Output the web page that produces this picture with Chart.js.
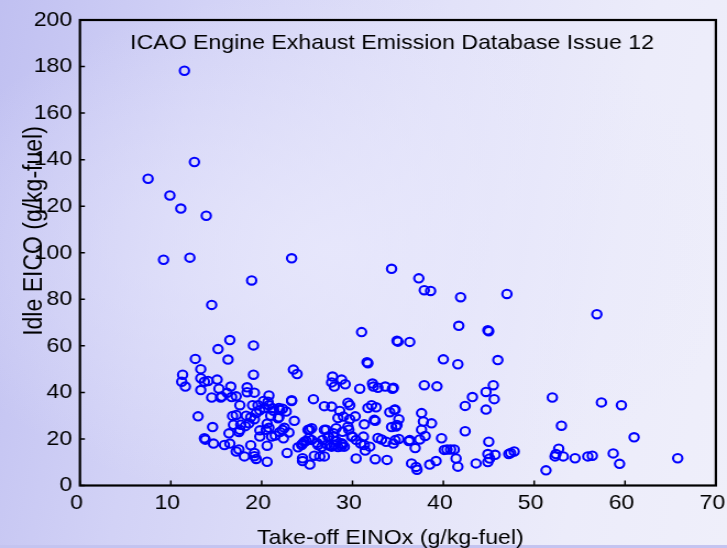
<!DOCTYPE html>
<html>
<head>
<meta charset="utf-8">
<title>ICAO Engine Exhaust Emission Database Issue 12</title>
<script src="https://cdn.jsdelivr.net/npm/chart.js@4.4.1/dist/chart.umd.min.js"></script>
<style>
  html, body { margin: 0; padding: 0; }
  body {
    width: 727px; height: 548px; overflow: hidden; position: relative;
    background:
      radial-gradient(ellipse 420px 260px at 330px 250px, rgba(232,232,252,0.85), rgba(232,232,252,0) 100%),
      linear-gradient(100deg, #c0c0f1 0%, #d2d2f6 25%, #e2e2f9 55%, #ececfa 80%, #efeffa 100%);
  }
  #strip { position: absolute; left: 0; top: 545px; width: 727px; height: 3px; background: #c4c4f0; }
  #wrap { position: absolute; left: 0; top: 0; transform: scaleX(1.0998); transform-origin: 0 0; }
</style>
</head>
<body>
<div id="strip"></div>
<div id="wrap"><canvas id="emissionChart" width="661" height="548"></canvas></div>
<script>
// titles
const chartTitle = 'ICAO Engine Exhaust Emission Database Issue 12';
const xTitle = 'Take-off EINOx (g/kg-fuel)';
const yTitle = 'Idle EICO (g/kg-fuel)';

// axis ranges (tick labels 0..70 by 10 and 0..200 by 20)
const xRange = [0, 70, 10];
const yRange = [0, 200, 20];

// take-off EINOx per engine (g/kg-fuel)
const einox = [
  11.5, 12.6, 7.5, 9.9, 11.1, 13.9, 9.2, 12.1, 23.3, 18.9,
  14.5, 34.3, 37.3, 37.9, 38.6, 41.9, 47.0, 56.9, 31.0, 41.7,
  44.9, 45.0, 34.9, 35.0, 36.3, 40.0, 41.6, 46.0, 31.6, 31.7,
  16.5, 15.2, 19.1, 12.7, 16.3, 19.1, 23.5, 23.9, 11.3, 11.2,
  11.6, 13.3, 13.3, 13.7, 14.1, 15.1, 13.3, 14.5, 15.3, 16.6,
  15.5, 16.2, 16.7, 17.2, 13.0, 14.6, 13.7, 13.8, 14.7, 15.9,
  16.4, 16.5, 17.2, 17.5, 18.1, 18.8, 19.2, 19.4, 19.2, 20.6,
  20.6, 18.4, 18.4, 19.2, 20.8, 17.6, 16.8, 17.2, 16.9, 17.7,
  17.5, 18.3, 19.0, 18.8, 19.6, 18.2, 18.6, 19.2, 19.4, 19.8,
  20.2, 20.3, 19.8, 20.8, 21.0, 20.6, 21.3, 21.9, 21.9, 22.3,
  22.7, 23.3, 23.6, 20.8, 21.5, 22.0, 22.5, 22.4, 23.0, 22.8,
  21.1, 19.8, 24.0, 24.5, 25.3, 24.5, 24.9, 25.3, 25.5, 25.7,
  25.2, 26.1, 25.8, 26.4, 26.9, 26.6, 26.9, 27.7, 27.1, 27.4,
  27.9, 28.2, 27.2, 27.5, 28.4, 28.9, 28.8, 27.8, 27.7, 28.0,
  28.8, 29.2, 28.4, 29.0, 29.5, 29.7, 29.7, 30.3, 29.6, 30.0,
  30.4, 30.9, 31.2, 31.4, 31.3, 30.8, 31.7, 32.1, 32.6, 32.5,
  32.2, 32.3, 32.8, 33.6, 34.4, 34.5, 34.1, 34.7, 34.3, 34.9,
  35.1, 32.5, 33.8, 32.8, 33.2, 33.7, 34.5, 35.1, 34.7, 36.5,
  37.1, 37.0, 36.9, 36.3, 37.4, 37.6, 37.8, 37.6, 38.7, 38.0,
  37.9, 39.3, 38.5, 39.2, 39.8, 40.1, 40.4, 40.8, 41.2, 41.4,
  41.6, 42.4, 42.4, 43.2, 43.6, 44.7, 44.7, 45.5, 45.6, 45.0,
  44.9, 44.9, 45.1, 45.7, 47.2, 47.8, 47.4, 51.3, 52.0, 53.0,
  52.3, 52.7, 52.4, 53.2, 54.5, 55.9, 56.4, 57.4, 58.7, 59.4,
  59.6, 61.0, 65.8, 23.3, 20.7, 21.2, 22.0, 21.8, 20.5, 22.3,
  28.6, 29.5, 28.9, 28.2, 27.9, 27.3, 26.9, 26.7, 26.2, 25.5,
  24.7, 24.4, 24.5, 25.1, 28.8, 28.0, 27.7, 29.1, 29.9, 30.4,
  31.3, 34.6, 34.8, 32.4, 36.2, 31.9, 15.6, 17.6
];

// idle EICO per engine (g/kg-fuel), same order as einox
const idleCO = [
  178.2, 139.0, 131.8, 124.6, 119.0, 115.9, 97.0, 97.9, 97.6, 88.1,
  77.6, 93.1, 89.0, 83.9, 83.6, 80.9, 82.3, 73.6, 65.9, 68.6,
  66.7, 66.3, 62.2, 61.8, 61.7, 54.2, 52.1, 53.9, 53.0, 52.5,
  62.5, 58.6, 60.2, 54.4, 54.1, 47.6, 49.8, 47.9, 47.6, 44.6,
  42.5, 50.0, 46.1, 44.6, 44.9, 45.5, 41.0, 37.8, 41.6, 42.5,
  37.8, 39.8, 38.0, 38.3, 29.7, 25.1, 20.3, 19.7, 18.0, 17.4,
  22.4, 18.0, 14.6, 15.5, 12.5, 17.3, 14.0, 11.4, 12.6, 10.2,
  17.1, 42.2, 40.1, 39.9, 38.7, 34.5, 29.9, 30.3, 26.1, 26.1,
  23.0, 30.0, 34.5, 29.3, 34.5, 25.5, 26.7, 28.5, 31.1, 32.3,
  36.3, 33.3, 23.7, 34.5, 30.0, 26.6, 32.1, 29.3, 33.3, 33.0,
  31.8, 36.6, 27.8, 24.8, 21.5, 23.0, 24.8, 20.3, 22.8, 14.0,
  21.0, 21.0, 16.4, 10.5, 9.0, 18.0, 19.2, 24.0, 24.6, 37.1,
  20.3, 18.3, 12.8, 12.5, 12.5, 16.5, 34.1, 33.9, 24.0, 20.9,
  22.5, 19.2, 17.6, 17.1, 16.5, 17.7, 16.8, 46.8, 44.3, 42.5,
  45.5, 43.5, 29.0, 29.6, 35.6, 34.5, 28.5, 29.7, 24.0, 21.0,
  11.6, 18.0, 21.0, 15.0, 26.3, 41.6, 33.3, 34.5, 33.6, 27.8,
  43.8, 42.5, 42.0, 42.5, 41.6, 42.0, 31.5, 32.6, 25.1, 26.0,
  28.5, 11.3, 11.0, 20.4, 19.8, 18.8, 18.0, 20.0, 19.5, 9.5,
  6.8, 8.0, 16.1, 19.5, 19.8, 31.1, 27.5, 24.0, 26.7, 21.3,
  43.1, 42.6, 9.0, 10.5, 20.3, 15.3, 15.5, 15.5, 15.5, 11.6,
  8.1, 34.2, 23.3, 38.0, 9.5, 40.2, 32.6, 43.1, 37.1, 18.8,
  13.5, 10.1, 11.6, 13.2, 13.5, 14.6, 14.0, 6.5, 37.8, 25.7,
  12.5, 15.8, 13.5, 12.5, 11.7, 12.5, 12.8, 35.7, 13.8, 9.3,
  34.5, 20.7, 11.7, 36.3, 36.0, 33.2, 32.5, 28.9, 23.9, 23.9,
  32.0, 25.3, 23.1, 24.6, 21.0, 21.0, 23.9, 19.6, 17.4, 19.6,
  18.8, 17.4, 11.7, 23.9, 18.2, 17.4, 16.7, 16.7, 21.0, 19.6,
  17.4, 32.5, 25.3, 28.2, 19.1, 16.7, 38.2, 23.9
];

const FONT = '"Liberation Sans", Arial, Helvetica, sans-serif';
Chart.defaults.font.family = FONT;
Chart.defaults.color = '#000';

// frame, inward tick marks and the three titles
const frameAndTitles = {
  id: 'frameAndTitles',
  afterDraw(chart) {
    const { ctx, chartArea: a, scales: { x, y } } = chart;
    ctx.save();
    ctx.strokeStyle = '#000';
    ctx.lineWidth = 1.5;
    ctx.beginPath();
    x.ticks.forEach(t => {
      const px = x.getPixelForValue(t.value);
      ctx.moveTo(px, a.bottom);
      ctx.lineTo(px, a.bottom - 5);
    });
    y.ticks.forEach(t => {
      const py = y.getPixelForValue(t.value);
      ctx.moveTo(a.left, py);
      ctx.lineTo(a.left + 4.5, py);
    });
    ctx.stroke();

    ctx.lineWidth = 2.2;
    ctx.strokeRect(a.left, a.top, a.right - a.left, a.bottom - a.top);

    ctx.fillStyle = '#000';
    ctx.textAlign = 'center';
    ctx.textBaseline = 'alphabetic';
    ctx.font = '21px ' + FONT;
    ctx.fillText(chartTitle, 356.5, 49);
    ctx.fillText(xTitle, 355, 544);

    ctx.translate(38, 231);
    ctx.rotate(-Math.PI / 2);
    ctx.font = '23px ' + FONT;
    ctx.fillText(yTitle, 0, 0);
    ctx.restore();
  }
};

const points = einox.map((v, i) => ({ x: v, y: idleCO[i] }));

const ctx = document.getElementById('emissionChart').getContext('2d');
new Chart(ctx, {
  type: 'scatter',
  data: {
    datasets: [{
      label: 'Engines',
      data: points,
      pointStyle: 'circle',
      pointRadius: 4.2,
      pointHoverRadius: 4.2,
      borderColor: '#0000ff',
      backgroundColor: 'rgba(0,0,0,0)',
      borderWidth: 2.1
    }]
  },
  options: {
    responsive: false,
    animation: false,
    events: [],
    layout: { padding: { left: 0, right: 10.1, top: 20, bottom: 0 } },
    plugins: {
      legend: { display: false },
      title: { display: false },
      tooltip: { enabled: false }
    },
    scales: {
      x: {
        type: 'linear',
        min: xRange[0],
        max: xRange[1],
        grid: { display: false, drawTicks: false, tickLength: 0 },
        border: { display: false },
        ticks: { stepSize: xRange[2], padding: 5, labelOffset: -3.2, font: { size: 21 }, color: '#000' },
        afterFit(scale) {
          scale.height = 62.5;
          scale.paddingLeft = 0;
          scale.paddingRight = 0;
        }
      },
      y: {
        type: 'linear',
        min: yRange[0],
        max: yRange[1],
        grid: { display: false, drawTicks: false, tickLength: 0 },
        border: { display: false },
        ticks: { stepSize: yRange[2], padding: 7, font: { size: 21 }, color: '#000' },
        afterFit(scale) {
          scale.width = 72.7;
          scale.paddingTop = 0;
          scale.paddingBottom = 0;
        }
      }
    }
  },
  plugins: [frameAndTitles]
});
</script>
</body>
</html>
